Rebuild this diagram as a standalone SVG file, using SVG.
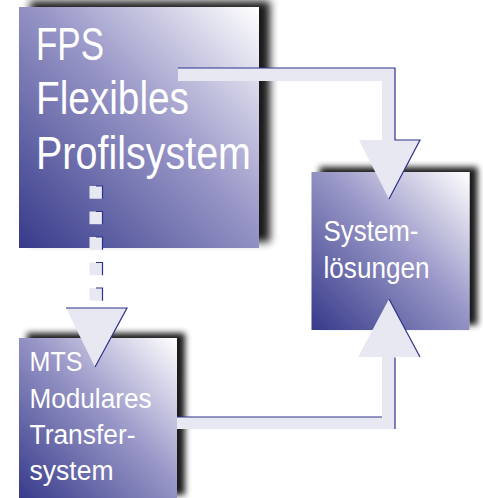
<svg xmlns="http://www.w3.org/2000/svg" width="483" height="498" viewBox="0 0 483 498">
  <style>
    .box { fill: url(#boxGrad); }
    .lbl { font-family: "Liberation Sans", Arial, sans-serif; fill: #ffffff; lengthAdjust: spacingAndGlyphs; }
    .conn { fill: #e8e8f3; stroke: none; }
    .edge { fill: none; stroke: #2e318c; stroke-width: 1.2; }
  </style>
  <defs>
    <linearGradient id="boxGrad" x1="0" y1="1" x2="1" y2="0">
      <stop offset="0" stop-color="#363a8a"/>
      <stop offset="0.55" stop-color="#9a98c8"/>
      <stop offset="1" stop-color="#ffffff"/>
    </linearGradient>
    <filter id="shadowL" x="-20%" y="-20%" width="140%" height="140%">
      <feGaussianBlur in="SourceAlpha" stdDeviation="4"/>
      <feOffset dx="11" dy="-6" result="b"/>
      <feComponentTransfer in="b" result="s"><feFuncA type="linear" slope="0.9"/></feComponentTransfer>
      <feMerge><feMergeNode in="s"/><feMergeNode in="SourceGraphic"/></feMerge>
    </filter>
    <filter id="shadowS" x="-20%" y="-20%" width="140%" height="140%">
      <feGaussianBlur in="SourceAlpha" stdDeviation="3"/>
      <feOffset dx="8" dy="-5" result="b"/>
      <feComponentTransfer in="b" result="s"><feFuncA type="linear" slope="0.9"/></feComponentTransfer>
      <feMerge><feMergeNode in="s"/><feMergeNode in="SourceGraphic"/></feMerge>
    </filter>
  </defs>

  <rect width="483" height="498" fill="#ffffff"/>

  <g id="node-fps">
    <rect class="box" x="19" y="7" width="240" height="241" filter="url(#shadowL)"/>
    <text class="lbl" x="36" y="59.5" font-size="46.5" textLength="68" lengthAdjust="spacingAndGlyphs">FPS</text>
    <text class="lbl" x="36" y="114" font-size="46.5" textLength="153" lengthAdjust="spacingAndGlyphs">Flexibles</text>
    <text class="lbl" x="36" y="168.5" font-size="46.5" textLength="215" lengthAdjust="spacingAndGlyphs">Profilsystem</text>
  </g>

  <g id="node-systemloesungen">
    <rect class="box" x="311.5" y="172" width="158" height="158" filter="url(#shadowS)"/>
    <text class="lbl" x="323.5" y="241" font-size="29.5" textLength="95" lengthAdjust="spacingAndGlyphs">System-</text>
    <text class="lbl" x="323.5" y="278.3" font-size="29.5" textLength="106" lengthAdjust="spacingAndGlyphs">lösungen</text>
  </g>

  <g id="node-mts">
    <rect class="box" x="19" y="338" width="158" height="162" filter="url(#shadowS)"/>
    <text class="lbl" x="29.5" y="371" font-size="27" textLength="53" lengthAdjust="spacingAndGlyphs">MTS</text>
    <text class="lbl" x="29.5" y="407.5" font-size="27" textLength="122" lengthAdjust="spacingAndGlyphs">Modulares</text>
    <text class="lbl" x="29.5" y="443.5" font-size="27" textLength="106" lengthAdjust="spacingAndGlyphs">Transfer-</text>
    <text class="lbl" x="29.5" y="479.5" font-size="27" textLength="84" lengthAdjust="spacingAndGlyphs">system</text>
  </g>

  <g id="connectors">
    <g id="fps-to-systemloesungen">
      <polygon class="conn" points="178,68 395,68 395,140 420,140 389,199 359,140 382,140 382,81 178,81"/>
      <polyline class="edge" points="178,68 395,68 395,140 420,140 389,199"/>
    </g>
    <g id="mts-to-systemloesungen">
      <polygon class="conn" points="177,417 382,417 382,357 358,357 389,299 420,357 395,357 395,429 177,429"/>
      <path class="edge" d="M177,417 H382 M395,357.5 V429 M389,299 L420,357"/>
    </g>
    <g id="fps-to-mts">
      <rect class="conn" x="89.5" y="186" width="13" height="12.7"/>
      <rect class="conn" x="89.5" y="211.5" width="13" height="12.7"/>
      <rect class="conn" x="89.5" y="237" width="13" height="12.7"/>
      <rect class="conn" x="89.5" y="262.5" width="13" height="12.7"/>
      <rect class="conn" x="89.5" y="288" width="13" height="12.7"/>
      <path class="edge" d="M96,186 H102.5 V198.7 M96,211.5 H102.5 V224.2 M96,237 H102.5 V249.7 M96,262.5 H102.5 V275.2 M96,288 H102.5 V300.7"/>
      <polygon class="conn" points="66,308 127,308 95,367"/>
      <polyline class="edge" points="66,308 127,308 95,367"/>
    </g>
  </g>
</svg>
